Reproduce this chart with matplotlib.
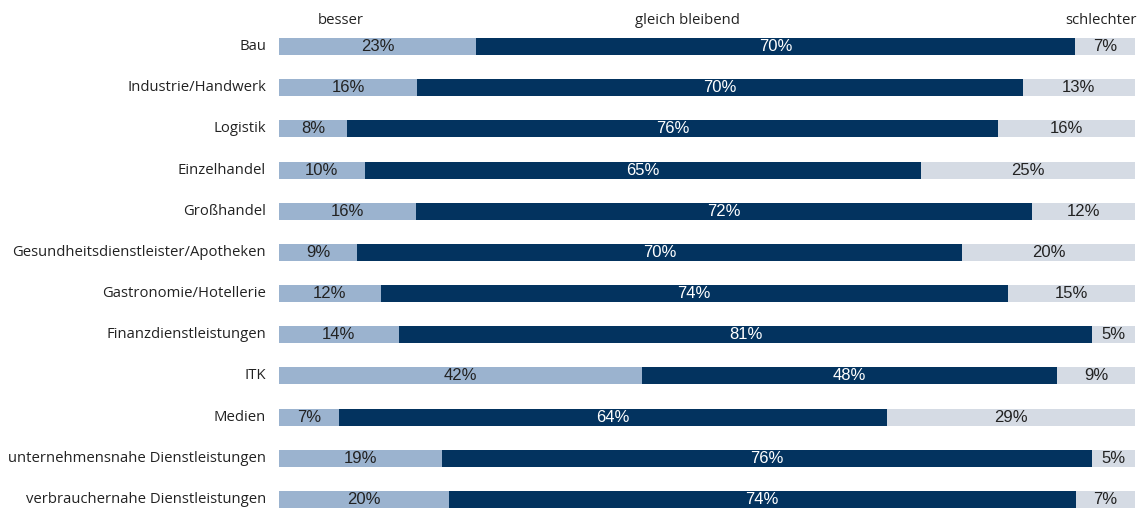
import numpy as np
import matplotlib
matplotlib.use("Agg")
import matplotlib.pyplot as plt

categories = ["Bau", "Industrie/Handwerk", "Logistik", "Einzelhandel", "Großhandel",
              "Gesundheitsdienstleister/Apotheken", "Gastronomie/Hotellerie",
              "Finanzdienstleistungen", "ITK", "Medien",
              "unternehmensnahe Dienstleistungen", "verbrauchernahe Dienstleistungen"]
besser = [23, 16, 8, 10, 16, 9, 12, 14, 42, 7, 19, 20]
gleich = [70, 70, 76, 65, 72, 70, 74, 81, 48, 64, 76, 74]
schlechter = [7, 13, 16, 25, 12, 20, 15, 5, 9, 29, 5, 7]
series_names = ["besser", "gleich bleibend", "schlechter"]

colors = ["#9bb3cf", "#03335f", "#d5dbe4"]
text_colors = ["#222222", "white", "#222222"]

W, H = 1146, 509
fig = plt.figure(figsize=(W / 100, H / 100), dpi=100)
# axes in pixel coordinates: bars from x=279 to 1135, rows from 46.5 to 499.5 (41.2 px spacing)
left, right = 279, 1135
top_px = 25.9
ax = fig.add_axes([left / W, 0, (right - left) / W, 1 - top_px / H])
spacing = 41.2
ax.set_ylim(11 + (H - 499.5) / spacing, -0.5)
ax.set_xlim(0, 1)

data = np.array([besser, gleich, schlechter], dtype=float)
shares = data / data.sum(axis=0)
y = np.arange(len(categories))
starts = np.zeros(len(categories))
for i in range(3):
    ax.barh(y, shares[i], left=starts, height=17 / spacing, color=colors[i], linewidth=0)
    for j in range(len(categories)):
        ax.text(starts[j] + shares[i][j] / 2, y[j], "%d%%" % data[i][j],
                ha="center", va="center", color=text_colors[i], fontsize=12,
                family="Liberation Sans")
    starts += shares[i]

for j, c in enumerate(categories):
    ax.text(-13 / (right - left), y[j], c, ha="right", va="center",
            fontsize=10.7, family="Open Sans", color="#222222")

# column headers
fig.text(341 / W, 1 - 21 / H, series_names[0], ha="center", va="center",
         fontsize=10.7, family="Open Sans", color="#222222")
fig.text(687 / W, 1 - 21 / H, series_names[1], ha="center", va="center",
         fontsize=10.7, family="Open Sans", color="#222222")
fig.text(1137 / W, 1 - 21 / H, series_names[2], ha="right", va="center",
         fontsize=10.7, family="Open Sans", color="#222222")

ax.axis("off")
fig.savefig("out.png", dpi=100)
